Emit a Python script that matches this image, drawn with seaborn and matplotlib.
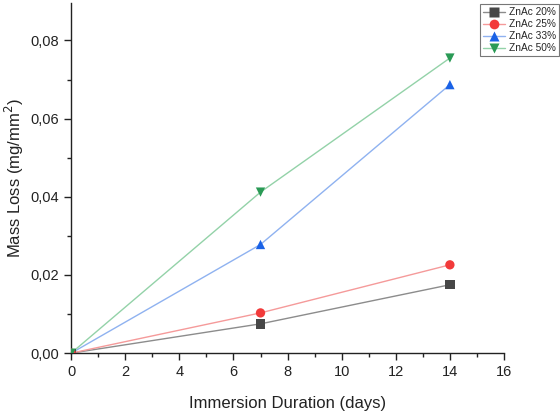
import matplotlib
matplotlib.use("Agg")
import matplotlib.pyplot as plt
import seaborn as sns
import pandas as pd
from matplotlib.lines import Line2D
from matplotlib.ticker import MultipleLocator, FuncFormatter

days = [0, 7, 14]
series_names = ["ZnAc 20%", "ZnAc 25%", "ZnAc 33%", "ZnAc 50%"]
znac20 = [0.0, 0.0075, 0.0175]
znac25 = [0.0, 0.0103, 0.0226]
znac33 = [0.0, 0.0278, 0.0687]
znac50 = [0.0, 0.0412, 0.0755]

marker_colors = ["#474747", "#f23a3a", "#1a62e6", "#2a9a55"]
line_colors = ["#8c8c8c", "#f59a9a", "#8fb2f0", "#93d2a8"]
markers = ["s", "o", "^", "v"]

sns.set_style("ticks")
plt.rcParams['font.family'] = ['Liberation Sans', 'DejaVu Sans']

rows = []
for name, vals in zip(series_names, [znac20, znac25, znac33, znac50]):
    for d, v in zip(days, vals):
        rows.append({"days": d, "loss": v, "series": name})
df = pd.DataFrame(rows)

fig = plt.figure(figsize=(5.6, 4.15), dpi=100)
ax = fig.add_axes([0.127, 0.149, 0.773, 0.843])

handles = []
for name, mc, lc, mk in zip(series_names, marker_colors, line_colors, markers):
    sub = df[df["series"] == name]
    sns.lineplot(data=sub, x="days", y="loss", ax=ax, color=lc, linewidth=1.0,
                 legend=False)
    sns.scatterplot(data=sub, x="days", y="loss", ax=ax, color=mc, marker=mk,
                    s=45, edgecolor="none", legend=False, zorder=5)
    handles.append(Line2D([0], [0], color=lc, linewidth=1.0, marker=mk,
                          markerfacecolor=mc, markeredgecolor="none",
                          markersize=7, label=name))

ax.set_xlim(0, 16)
ax.set_ylim(0, 0.0895)
ax.xaxis.set_major_locator(MultipleLocator(2))
ax.xaxis.set_minor_locator(MultipleLocator(1))
ax.yaxis.set_major_locator(MultipleLocator(0.02))
ax.yaxis.set_minor_locator(MultipleLocator(0.01))
ax.yaxis.set_major_formatter(FuncFormatter(lambda v, p: f"{v:.2f}".replace(".", ",")))
ax.xaxis.set_major_formatter(FuncFormatter(lambda v, p: f"{v:.0f}"))
ax.tick_params(which="major", direction="out", length=5, width=1.0, labelsize=10.5,
               colors="#222222")
ax.tick_params(which="minor", direction="out", length=3, width=1.0, colors="#222222")
for s in ["top", "right"]:
    ax.spines[s].set_visible(False)
for s in ["left", "bottom"]:
    ax.spines[s].set_color("#222222")
    ax.spines[s].set_linewidth(1.0)

ax.set_xlabel("Immersion Duration (days)", fontsize=12, color="#222222", labelpad=12)
ax.set_ylabel("Mass Loss (mg/mm$^2$)", fontsize=12, color="#222222", labelpad=3)

leg = fig.legend(handles=handles, loc="upper right", bbox_to_anchor=(0.999, 0.99),
                 fontsize=7.3, frameon=True, fancybox=False, edgecolor="#555555",
                 handlelength=2.2, handletextpad=0.4, borderpad=0.3,
                 labelspacing=0.2, borderaxespad=0)
leg.get_frame().set_linewidth(0.8)

fig.savefig("out.png", dpi=100)
